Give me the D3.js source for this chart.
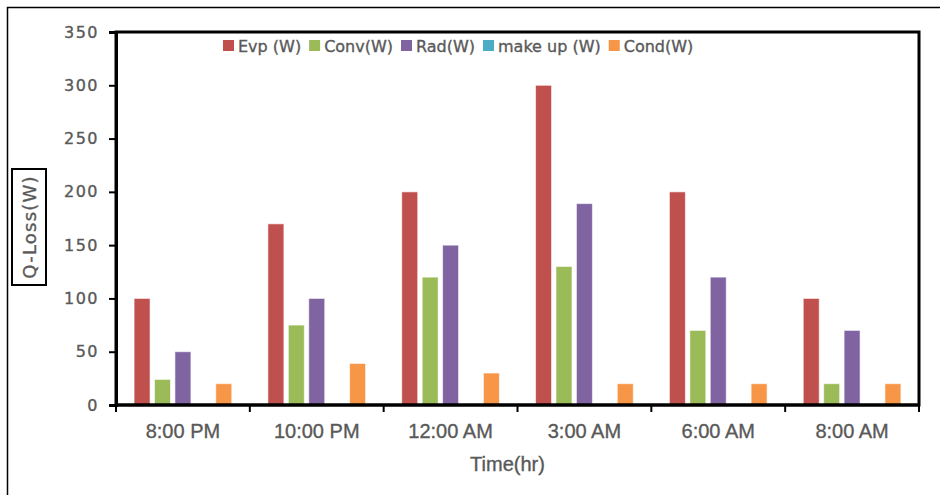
<!DOCTYPE html>
<html>
<head>
<meta charset="utf-8">
<script src="https://cdn.jsdelivr.net/npm/d3@7"></script>
<style>
  body { margin: 0; background: #fff; }
  svg { display: block; }
  text { stroke: #595959; stroke-width: 0.35px; }
</style>
</head>
<body>
<div id="chart"></div>
<script>
// valores
const categories = ["8:00 PM", "10:00 PM", "12:00 AM", "3:00 AM", "6:00 AM", "8:00 AM"];
const seriesNames = ["Evp (W)", "Conv(W)", "Rad(W)", "make up (W)", "Cond(W)"];
const evp = [100, 170, 200, 300, 200, 100];
const conv = [24, 75, 120, 130, 70, 20];
const rad = [50, 100, 150, 189, 120, 70];
const makeUp = [0, 0, 0, 0, 0, 0];
const cond = [20, 39, 30, 20, 20, 20];
const yTicks = [0, 50, 100, 150, 200, 250, 300, 350];
const colors = ["#C0504D", "#9BBB59", "#8064A2", "#4BACC6", "#F79646"];

const seriesValues = [evp, conv, rad, makeUp, cond];

const width = 940, height = 495;
const margin = { top: 32, right: 21, bottom: 90, left: 116 };
const w = width - margin.left - margin.right;
const h = height - margin.top - margin.bottom;

const svgRoot = d3.select("#chart").append("svg")
    .attr("width", width)
    .attr("height", height);

// borde exterior del gráfico (recortado a la derecha y abajo)
svgRoot.append("rect")
    .attr("x", 7.5).attr("y", 7.5)
    .attr("width", width).attr("height", height)
    .attr("fill", "none")
    .attr("stroke", "#000")
    .attr("stroke-width", 1.5);

const svg = svgRoot.append("g")
    .attr("transform", `translate(${margin.left},${margin.top})`);

const x0 = d3.scaleBand().domain(categories).range([0, w]).padding(0);
const x1 = d3.scaleBand().domain(seriesNames)
    .range([x0.bandwidth() * 0.135, x0.bandwidth() * 0.865])
    .paddingInner(0.217);
const y = d3.scaleLinear().domain([0, 350]).range([h, 0]);

// barras
const rows = categories.map((c, i) => ({
    cat: c,
    vals: seriesNames.map((s, j) => ({ key: s, value: seriesValues[j][i], color: colors[j] }))
}));

const groups = svg.selectAll(".grp")
    .data(rows).enter().append("g")
    .attr("class", "grp")
    .attr("transform", d => `translate(${x0(d.cat)},0)`);

groups.selectAll("rect")
    .data(d => d.vals.filter(v => v.value > 0))
    .enter().append("rect")
    .attr("x", d => x1(d.key))
    .attr("y", d => y(d.value))
    .attr("width", x1.bandwidth())
    .attr("height", d => h - y(d.value))
    .attr("fill", d => d.color)
    .attr("stroke", "rgba(255,255,255,0.6)")
    .attr("stroke-width", 1);

// marco del área de trazado
svg.append("rect")
    .attr("x", 0).attr("y", 0)
    .attr("width", w).attr("height", h)
    .attr("fill", "none")
    .attr("stroke", "#000")
    .attr("stroke-width", 3);

// eje Y
const yAxis = svg.append("g")
    .call(d3.axisLeft(y).tickValues(yTicks).tickSize(7).tickPadding(10));
yAxis.select(".domain").attr("stroke", "#000").attr("stroke-width", 3);
yAxis.selectAll(".tick line").attr("stroke", "#000").attr("stroke-width", 2);
yAxis.selectAll("text")
    .style("font-family", "'DejaVu Sans', sans-serif")
    .style("font-size", "16px")
    .style("letter-spacing", "1.5px")
    .style("fill", "#595959");

// eje X: ticks en los límites de categoría
const xAxis = svg.append("g").attr("transform", `translate(0,${h})`);
xAxis.append("line")
    .attr("x1", 0).attr("x2", w)
    .attr("stroke", "#000").attr("stroke-width", 3);
const bounds = categories.map(c => x0(c)).concat([w]);
xAxis.selectAll(".xt")
    .data(bounds).enter().append("line")
    .attr("class", "xt")
    .attr("x1", d => d).attr("x2", d => d)
    .attr("y1", 0).attr("y2", 7)
    .attr("stroke", "#000").attr("stroke-width", 2);
xAxis.selectAll(".xl")
    .data(categories).enter().append("text")
    .attr("class", "xl")
    .attr("x", d => x0(d) + x0.bandwidth() / 2)
    .attr("y", 33)
    .attr("text-anchor", "middle")
    .style("font-family", "'Liberation Sans', Arial, sans-serif")
    .style("font-size", "20px")
    .style("fill", "#595959")
    .text(d => d);

// título eje X
svg.append("text")
    .attr("x", w / 2 - 10)
    .attr("y", h + 66)
    .attr("text-anchor", "middle")
    .style("font-family", "'Liberation Sans', Arial, sans-serif")
    .style("font-size", "20px")
    .style("fill", "#595959")
    .text("Time(hr)");

// título eje Y con caja
const yTitle = svgRoot.append("g")
    .attr("transform", `translate(29,227) rotate(-90)`);
yTitle.append("rect")
    .attr("x", -58).attr("y", -17)
    .attr("width", 116).attr("height", 34)
    .attr("fill", "#fff")
    .attr("stroke", "#000")
    .attr("stroke-width", 2);
yTitle.append("text")
    .attr("x", 0).attr("y", 7)
    .attr("text-anchor", "middle")
    .style("font-family", "'DejaVu Sans', sans-serif")
    .style("font-size", "18px")
    .style("letter-spacing", "1.2px")
    .style("fill", "#595959")
    .text("Q-Loss(W)");

// leyenda
const legend = svgRoot.append("g").attr("transform", "translate(223,46)");
let lx = 0;
seriesNames.forEach((s, i) => {
    const item = legend.append("g").attr("transform", `translate(${lx},0)`);
    item.append("rect")
        .attr("x", 0).attr("y", -6)
        .attr("width", 11).attr("height", 11)
        .attr("fill", colors[i]);
    const t = item.append("text")
        .attr("x", 15).attr("y", 5.5)
        .style("font-family", "'DejaVu Sans', sans-serif")
        .style("font-size", "16px")
        .style("fill", "#595959")
        .text(s);
    lx += 15 + t.node().getComputedTextLength() + 8;
});
</script>
</body>
</html>
